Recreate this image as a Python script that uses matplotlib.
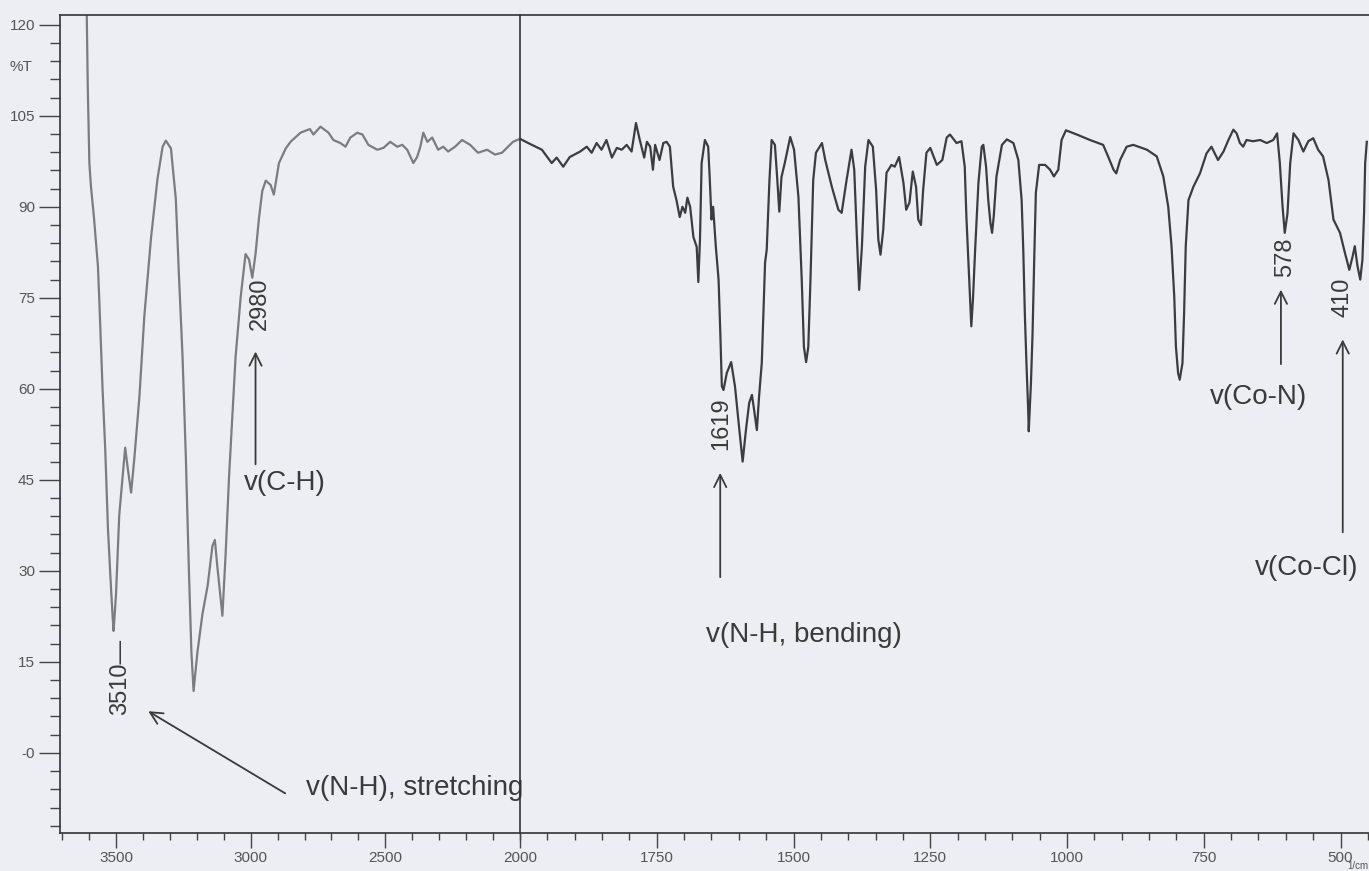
import matplotlib
matplotlib.use('Agg')
import matplotlib.pyplot as plt
from matplotlib.ticker import MultipleLocator, FixedLocator, FuncFormatter

plt.rcParams['font.family'] = ['Liberation Sans', 'DejaVu Sans']

# --- Data ---
wavenumber = [
    3610, 3605, 3599, 3593, 3582, 3567, 3562, 3550, 3540, 3530, 3519, 3512, 3509,
    3500, 3488, 3475, 3466, 3457, 3444, 3432, 3413, 3395, 3370, 3346, 3327, 3315,
    3296, 3278, 3266, 3253, 3241, 3229, 3220, 3212, 3198, 3179, 3160, 3142, 3133,
    3124, 3105, 3093, 3080, 3068, 3056, 3037, 3019, 3006, 2994, 2982, 2969, 2957,
    2944, 2926, 2914, 2895, 2870, 2852, 2815, 2804, 2780, 2767, 2741, 2711, 2693,
    2667, 2648, 2630, 2604, 2585, 2563, 2530, 2507, 2482, 2456, 2437, 2419, 2396,
    2382, 2370, 2359, 2344, 2326, 2304, 2285, 2267, 2241, 2215, 2185, 2156, 2122,
    2093, 2067, 2044, 2026, 2011, 2000,
    1985, 1960, 1942, 1933, 1921, 1909, 1890, 1878, 1869, 1860, 1851, 1842, 1832,
    1823, 1814, 1805, 1796, 1788, 1781, 1773, 1768, 1762, 1757, 1753, 1745, 1738,
    1732, 1726, 1720, 1714, 1708, 1703, 1698, 1694, 1689, 1683, 1677, 1674, 1671,
    1668, 1662, 1656, 1653, 1650, 1647, 1642, 1637, 1634, 1631, 1628, 1622, 1614,
    1607, 1599, 1593, 1587, 1581, 1576, 1572, 1567, 1563, 1558, 1555, 1552, 1549,
    1544, 1540, 1534, 1530, 1526, 1522, 1516, 1506, 1499, 1491, 1485, 1481, 1477,
    1473, 1469, 1464, 1459, 1448, 1442, 1430, 1418, 1412, 1403, 1394, 1389, 1384,
    1380, 1375, 1369, 1363, 1355, 1349, 1345, 1341, 1336, 1330, 1321, 1315, 1307,
    1299, 1294, 1288, 1282, 1276, 1272, 1267, 1263, 1257, 1250, 1238, 1228, 1220,
    1214, 1202, 1193, 1187, 1184, 1181, 1177, 1175, 1172, 1168, 1162, 1156, 1153,
    1148, 1144, 1140, 1137, 1134, 1129, 1119, 1110, 1098, 1089, 1083, 1080, 1077,
    1074, 1071, 1070, 1066, 1063, 1060, 1057, 1051, 1040, 1031, 1024, 1016, 1010,
    1002, 982, 958, 934, 925, 915, 910, 903, 891, 879, 854, 836, 824, 815, 809,
    804, 801, 797, 794, 789, 786, 783, 778, 769, 757, 745, 736, 724, 714, 705,
    696, 690, 684, 678, 672, 660, 647, 635, 623, 616, 611, 606, 602, 597, 592,
    586, 577, 568, 559, 550, 541, 532, 522, 513, 501, 492, 484, 478, 474, 469,
    464, 460, 457, 455, 452,
]
transmittance = [
    126.0, 110.0, 97.2, 93.3, 88.3, 80.1, 74.5, 60.0, 50.0, 37.0, 27.5, 22.0, 20.1,
    26.2, 39.2, 45.8, 50.3, 47.1, 42.9, 48.5, 58.8, 71.9, 84.9, 94.6, 99.9, 100.9,
    99.6, 91.3, 78.3, 65.3, 49.1, 29.5, 16.5, 10.2, 16.5, 22.9, 27.5, 34.1, 35.1,
    30.8, 22.6, 32.8, 45.8, 55.5, 65.3, 75.2, 82.2, 81.3, 78.3, 82.2, 88.2, 92.6,
    94.3, 93.6, 92.0, 97.2, 99.6, 100.7, 102.2, 102.4, 102.8, 101.9, 103.2, 102.2, 101.0,
    100.5, 99.9, 101.4, 102.2, 101.9, 100.2, 99.4, 99.7, 100.7, 99.9, 100.2, 99.4, 97.2,
    98.2, 99.9, 102.2, 100.7, 101.4, 99.4, 99.9, 99.1, 99.9, 101.0, 100.2, 98.9, 99.4,
    98.6, 98.9, 99.9, 100.7, 101.0, 101.2,
    100.5, 99.4, 97.2, 98.1, 96.6, 98.2, 99.1, 99.9, 98.9, 100.5, 99.4, 101.0, 98.1,
    99.7, 99.4, 100.2, 99.1, 103.8, 101.0, 98.1, 100.7, 99.9, 96.1, 100.2, 97.7, 100.5,
    100.7, 99.9, 93.3, 91.1, 88.3, 90.0, 89.0, 91.5, 90.0, 85.0, 83.4, 77.6, 84.6,
    97.2, 101.0, 99.9, 94.4, 87.9, 90.0, 83.4, 78.0, 69.7, 60.4, 59.8, 62.6, 64.4,
    60.4, 53.2, 48.0, 53.2, 57.7, 59.0, 56.5, 53.2, 58.7, 64.3, 72.5, 80.8, 82.9,
    94.4, 101.0, 100.2, 94.9, 89.2, 94.9, 97.2, 101.5, 99.4, 91.6, 78.0, 66.9, 64.4,
    66.9, 78.0, 94.4, 98.9, 100.5, 97.7, 93.3, 89.5, 89.0, 94.4, 99.4, 96.1, 84.6,
    76.3, 83.4, 96.6, 101.0, 99.9, 92.8, 84.6, 82.1, 86.2, 95.6, 96.9, 96.6, 98.2,
    93.9, 89.5, 90.7, 95.8, 93.3, 87.9, 87.0, 92.8, 98.9, 99.7, 96.9, 97.7, 101.4,
    101.9, 100.5, 100.8, 96.6, 88.4, 82.4, 74.7, 70.3, 74.7, 82.9, 93.9, 99.9, 100.2,
    96.6, 91.1, 87.3, 85.7, 88.4, 95.0, 100.2, 101.1, 100.5, 97.7, 91.1, 82.9, 71.9,
    63.7, 56.5, 53.0, 60.9, 69.2, 81.3, 92.3, 96.9, 96.9, 96.1, 95.0, 96.1, 101.0,
    102.6, 101.9, 101.0, 100.2, 98.3, 96.1, 95.5, 97.7, 99.9, 100.2, 99.4, 98.3, 95.0, 90.0, 83.5,
    75.2, 67.0, 62.6, 61.5, 64.2, 72.5, 83.5, 91.1, 93.3, 95.5, 98.8, 99.9, 97.7, 99.1, 101.0,
    102.7, 102.1, 100.5, 99.9, 101.0, 100.8, 101.0, 100.5, 101.0, 102.1, 97.2, 90.0, 85.7, 88.9, 97.2,
    102.1, 101.0, 99.1, 100.8, 101.3, 99.4, 98.3, 94.4, 87.9, 85.7, 82.4, 79.6, 81.8, 83.5, 80.2,
    78.0, 81.3, 89.0, 97.2, 100.7,
]

left_ticks = [3500, 3000, 2500]
y_ticks = [120, 105, 90, 75, 60, 45, 30, 15, 0]
y_ticklabels = ['120', '105', '90', '75', '60', '45', '30', '15', '-0']

# --- Figure: two panels, the wavenumber scale doubles at 2000 ---
W, H = 1369, 871
fig = plt.figure(figsize=(W / 100, H / 100), dpi=100)
fig.patch.set_facecolor('#eceef3')


def box(x0, x1):
    return [x0 / W, (H - 833) / H, (x1 - x0) / W, 818 / H]


ax_l = fig.add_axes(box(60, 520))
ax_r = fig.add_axes(box(520, 1369))

spine_col = '#333333'
text_col = '#3a3a3a'
tick_col = '#555555'

for ax in (ax_l, ax_r):
    ax.set_facecolor('none')
    ax.set_ylim(-13.2, 121.6)
    ax.spines['right'].set_visible(False)
    for s in ('left', 'top', 'bottom'):
        ax.spines[s].set_color(spine_col)
        ax.spines[s].set_linewidth(1.2)
    ax.tick_params(axis='x', which='major', direction='out', length=11, width=1,
                   color='#444444', labelsize=11, labelcolor=tick_col, pad=2)
    ax.tick_params(axis='x', which='minor', direction='out', length=5, width=1,
                   color='#444444')
    ax.xaxis.set_major_formatter(FuncFormatter(lambda v, p: f'{v:.0f}'))

ax_l.set_xlim(3708, 2000)
ax_r.set_xlim(2000, 448)

ax_l.plot(wavenumber, transmittance, color='#7c7c80', lw=1.6)
ax_r.plot(wavenumber, transmittance, color='#3c3c40', lw=1.6)

ax_l.xaxis.set_major_locator(FixedLocator(left_ticks))
ax_l.xaxis.set_minor_locator(MultipleLocator(100))
ax_r.xaxis.set_major_locator(MultipleLocator(250))
ax_r.xaxis.set_minor_locator(MultipleLocator(50))

ax_l.set_yticks(y_ticks)
ax_l.set_yticklabels(y_ticklabels)
ax_l.yaxis.set_minor_locator(MultipleLocator(3))
ax_l.tick_params(axis='y', which='major', direction='out', length=15, width=1,
                 color='#444444', labelsize=11, labelcolor=tick_col, pad=3)
ax_l.tick_params(axis='y', which='minor', direction='out', length=7, width=1,
                 color='#444444')
ax_r.tick_params(axis='y', which='both', left=False, labelleft=False)

ax_l.text(-0.085, 113, '%T', transform=ax_l.get_yaxis_transform(),
          ha='center', va='center', fontsize=11, color=tick_col)
fig.text(1368 / W, 0, '1/cm', ha='right', va='bottom', fontsize=7, color=tick_col)

# --- Band annotations ---
arrow = dict(arrowstyle='->', lw=1.3, color=text_col, mutation_scale=22)
num_kw = dict(rotation=90, ha='center', va='bottom', fontsize=17, color=text_col)
lab_kw = dict(ha='left', va='center', fontsize=20, color=text_col)

ax_l.text(3485, 6.3, '3510—', **num_kw)
ax_l.annotate('', xy=(3389, 7.1), xytext=(2863, -6.9), arrowprops=arrow)
ax_l.text(2796, -5.8, 'v(N-H), stretching', **lab_kw)

ax_l.text(2967, 69.7, '2980', **num_kw)
ax_l.annotate('', xy=(2982, 66.6), xytext=(2982, 47.1), arrowprops=arrow)
ax_l.text(3026, 44.5, 'v(C-H)', **lab_kw)

ax_r.text(1632, 49.9, '1619', **num_kw)
ax_r.annotate('', xy=(1634, 46.6), xytext=(1634, 28.5), arrowprops=arrow)
ax_r.text(1660, 19.4, 'v(N-H, bending)', **lab_kw)

ax_r.text(602, 78.5, '578', **num_kw)
ax_r.annotate('', xy=(609, 76.8), xytext=(609, 63.6), arrowprops=arrow)
ax_r.text(739, 58.7, 'v(Co-N)', **lab_kw)

ax_r.text(496, 71.9, '410', **num_kw)
ax_r.annotate('', xy=(496, 68.6), xytext=(496, 35.9), arrowprops=arrow)
ax_r.text(656, 30.5, 'v(Co-Cl)', **lab_kw)

fig.savefig('out.png', dpi=100, facecolor=fig.get_facecolor())
